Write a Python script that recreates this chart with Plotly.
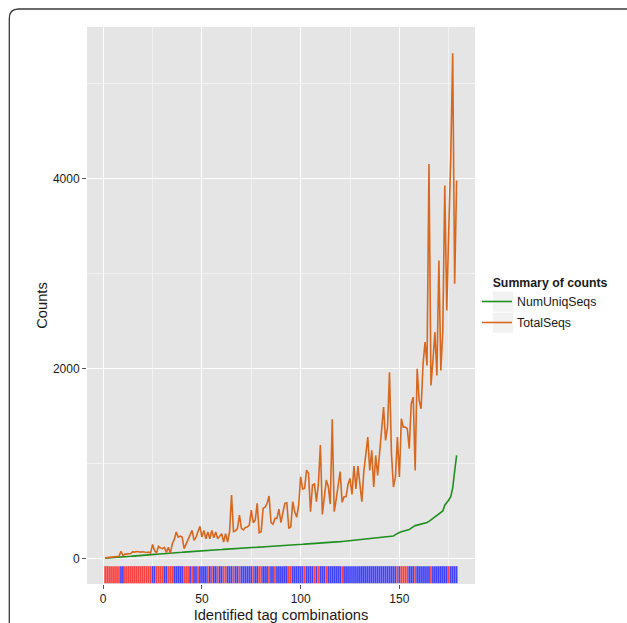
import plotly.graph_objects as go

# ---- data ----
tag_index = list(range(1, 180))

total_seqs = [
    5, 8, 10, 12, 14, 16, 18, 22, 75, 30,
    45, 48, 45, 52, 70, 66, 72, 68, 66, 70,
    65, 62, 66, 55, 147, 80, 60, 126, 110, 102,
    116, 63, 116, 53, 154, 200, 277, 224, 235, 224,
    102, 150, 189, 240, 295, 189, 224, 280, 337, 224,
    295, 206, 277, 206, 295, 217, 277, 206, 230, 260,
    172, 260, 172, 281, 667, 281, 290, 316, 456, 316,
    300, 326, 330, 351, 509, 376, 404, 579, 270, 281,
    527, 540, 579, 656, 376, 360, 421, 421, 520, 376,
    480, 580, 586, 316, 333, 597, 491, 432, 560, 860,
    730, 737, 930, 895, 491, 772, 783, 597, 790, 1193,
    463, 650, 825, 755, 572, 1464, 491, 620, 755, 913,
    590, 649, 649, 780, 842, 674, 972, 730, 972, 755,
    597, 913, 1106, 1277, 926, 1137, 751, 1084, 874, 1137,
    1312, 1593, 1242, 1382, 1961, 1098, 751, 856, 1277, 856,
    1470, 1382, 1382, 1365, 1154, 1628, 1698, 926, 1996, 1663,
    1575, 2049, 2277, 2031, 4154, 1821, 2084, 2382, 1926, 3137,
    1979, 2400, 3926, 2610, 3453, 4200, 5319, 2891, 3979,
]

num_uniq_seqs = [
    2, 3, 5, 6, 8, 9, 11, 12, 14, 15,
    17, 19, 20, 22, 24, 25, 27, 28, 30, 32,
    33, 35, 37, 39, 40, 42, 44, 45, 47, 49,
    50, 52, 53, 55, 56, 58, 60, 61, 63, 64,
    66, 67, 69, 70, 72, 73, 75, 76, 78, 79,
    81, 82, 84, 85, 86, 88, 89, 90, 92, 93,
    95, 96, 97, 99, 100, 101, 103, 104, 105, 107,
    108, 109, 111, 112, 113, 115, 116, 117, 119, 120,
    121, 123, 124, 125, 127, 128, 129, 131, 132, 134,
    135, 136, 138, 139, 140, 142, 143, 144, 146, 147,
    148, 150, 151, 153, 154, 156, 157, 158, 160, 161,
    163, 164, 166, 167, 169, 170, 172, 173, 175, 176,
    178, 180, 181, 183, 185, 186, 188, 190, 192, 194,
    196, 198, 200, 202, 204, 206, 208, 210, 212, 214,
    216, 218, 220, 222, 225, 228, 235, 250, 265, 272,
    280, 285, 290, 298, 305, 318, 335, 345, 350, 355,
    360, 365, 370, 378, 390, 405, 420, 435, 450, 462,
    480, 500, 560, 585, 615, 650, 740, 920, 1085,
]

# tag type of each combination (R = red, B = blue)
tag_type = list(
    "RRRRRRRRBB" "RRRRRRRRRR" "RRRRBBRRRR" "BBRRRBBBBB" "RRRBRBBRBB"
    "BBRBRBBRBB" "RRBBBRBBRB" "BBBBBRBBRR" "BBBRBBRBBB" "BBBRRBBBBB"
    "BRBBBBRBRB" "BBRBBBBBBB" "RBBBBBBBBB" "BBBBBBBBBB" "BBBBBBBBRB"
    "RRRRBBBRBB" "BBBBBRBBBB" "BBBBRBBBB"
)

rug_bottom = -262
rug_top = -82

x_ticks = [0, 50, 100, 150]
y_ticks = [0, 2000, 4000]

# ---- styling ----
panel_bg = "#E5E5E5"
green = "#1F8F1F"
orange = "#D7681F"
type_colors = {"R": "rgba(255,20,20,0.78)", "B": "rgba(20,20,255,0.78)"}
font_family = "Liberation Sans, Arial, sans-serif"

fig = go.Figure()

fig.add_trace(go.Bar(
    x=tag_index,
    y=[rug_top - rug_bottom] * len(tag_index),
    base=rug_bottom,
    marker=dict(color=[type_colors[t] for t in tag_type], line=dict(width=0)),
    showlegend=False,
    hoverinfo="skip",
))

fig.add_trace(go.Scatter(
    x=tag_index, y=num_uniq_seqs, mode="lines", name="NumUniqSeqs",
    legendgroup="a", line=dict(color=green, width=1.6),
))
fig.add_trace(go.Scatter(
    x=tag_index, y=total_seqs, mode="lines", name="TotalSeqs",
    legendgroup="b", line=dict(color=orange, width=1.6),
))

L, R, T, B = 87, 152, 27, 39
W, H = 627, 623
pw, ph = W - L - R, H - T - B


def px_x(px):
    return (px - L) / pw


def px_y(py):
    return (H - B - py) / ph


shapes = []
# legend key backgrounds
for top, bot in [(291.7, 311.7), (312.7, 332.7)]:
    shapes.append(dict(type="rect", xref="paper", yref="paper",
                       x0=px_x(493), x1=px_x(513.3), y0=px_y(bot), y1=px_y(top),
                       fillcolor="#F2F2F2", line=dict(width=0), layer="below"))
# outer figure frame with rounded corner
fx, fy = px_x(9.3), px_y(9)
shapes.append(dict(
    type="path", xref="paper", yref="paper",
    path=(f"M {fx},{px_y(640)} L {fx},{px_y(18.5)} "
          f"Q {fx},{fy} {px_x(18.5)},{fy} L {px_x(660)},{fy}"),
    line=dict(color="#3a3a3a", width=1.3),
))

fig.update_layout(
    width=W, height=H,
    margin=dict(l=L, r=R, t=T, b=B, autoexpand=False),
    paper_bgcolor="white",
    plot_bgcolor=panel_bg,
    font=dict(family=font_family, color="#1a1a1a", size=12),
    bargap=0.12,
    showlegend=True,
    legend=dict(
        title=dict(text="&nbsp;&nbsp;&nbsp;&nbsp;<b>Summary of counts</b>", font=dict(size=12.3)),
        font=dict(size=12.3),
        x=px_x(477), xanchor="left",
        y=px_y(271), yanchor="top",
        bgcolor="rgba(0,0,0,0)",
        tracegroupgap=2,
    ),
    shapes=shapes,
)

fig.update_xaxes(
    range=[-8.2, 188.3],
    tickvals=x_ticks, ticks="outside", ticklen=4, tickcolor="#555", tickwidth=1,
    tickfont=dict(size=12, color="#1a1a1a"),
    showgrid=True, gridcolor="white", gridwidth=1.4,
    minor=dict(dtick=25, tick0=0, showgrid=True, gridcolor="#F2F2F2", gridwidth=0.7),
    zeroline=False, showline=False,
    title=dict(text="Identified tag combinations", font=dict(size=14.7), standoff=4),
)
fig.update_yaxes(
    range=[-270, 5596],
    tickvals=y_ticks, ticks="outside", ticklen=4, tickcolor="#555", tickwidth=1,
    tickfont=dict(size=12, color="#1a1a1a"),
    showgrid=True, gridcolor="white", gridwidth=1.4,
    minor=dict(dtick=1000, tick0=0, showgrid=True, gridcolor="#F2F2F2", gridwidth=0.7),
    zeroline=False, showline=False,
    title=dict(text="Counts", font=dict(size=14.7), standoff=1),
)

fig.write_html(
    "out.html",
    config={"displayModeBar": False},
    post_script="document.body.style.margin='0';",
)
